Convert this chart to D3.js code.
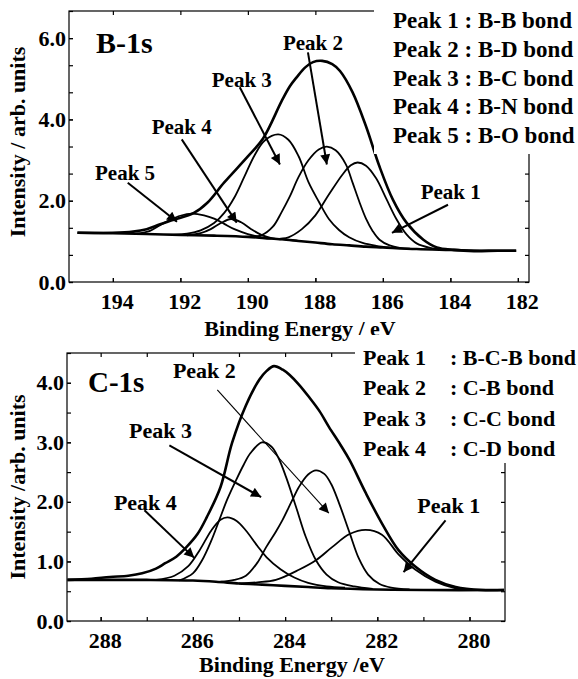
<!DOCTYPE html>
<html>
<head>
<meta charset="utf-8">
<script src="https://cdn.jsdelivr.net/npm/d3@7"></script>
<style>
  body { margin: 0; background: #fff; }
</style>
</head>
<body>
<svg id="chart" width="578" height="679"></svg>
<script>
// ---------- B-1s panel data (binding energy eV, intensity) ----------
const b1sXTicks = [194, 192, 190, 188, 186, 184, 182];
const b1sYMinor = [0, 0.667, 1.333, 2, 2.667, 3.333, 4, 4.667, 5.333, 6, 6.667];
const b1sYTicks = [0, 2, 4, 6];

const b1sBackground = [[195.05,1.21],[194,1.20],[193,1.18],[192,1.16],[191,1.14],[190,1.11],[189.5,1.08],[189,1.05],[188.5,1.01],[188,0.97],[187.5,0.93],[187,0.90],[186.5,0.87],[186,0.85],[185,0.81],[184,0.79],[183,0.77],[182.05,0.77]];
const b1sEnvelope = [[195.05,1.21],[194,1.21],[193.4,1.24],[193,1.30],[192.6,1.42],[192.2,1.53],[191.6,1.70],[191.2,1.95],[190.7,2.45],[190,3.09],[189.55,3.53],[189,4.45],[188.76,4.81],[188.55,5.04],[188.3,5.28],[188.07,5.41],[187.8,5.44],[187.5,5.36],[187.27,5.19],[186.9,4.67],[186.5,3.83],[186.1,2.84],[185.7,2.02],[185.3,1.46],[184.8,1.04],[184.4,0.85],[183.9,0.79],[183.3,0.76],[182.6,0.77],[182.05,0.77]];
const b1sPeak1 = [[189.2,1.06],[188.8,1.10],[188.4,1.30],[188,1.64],[187.6,2.15],[187.2,2.64],[186.95,2.87],[186.75,2.94],[186.5,2.86],[186.2,2.55],[185.9,2.05],[185.6,1.55],[185.3,1.17],[185,0.95],[184.6,0.84],[184.2,0.80]];
const b1sPeak2 = [[190,1.11],[189.6,1.15],[189.26,1.36],[189,1.72],[188.76,2.10],[188.5,2.58],[188.2,3.00],[187.9,3.26],[187.66,3.33],[187.4,3.24],[187.1,2.90],[186.9,2.45],[186.7,1.98],[186.5,1.56],[186.3,1.25],[186.1,1.04],[185.8,0.90],[185.5,0.84],[185.2,0.82]];
const b1sPeak3 = [[192.2,1.16],[191.8,1.19],[191.4,1.27],[191,1.45],[190.7,1.70],[190.4,2.08],[190.1,2.60],[189.8,3.12],[189.5,3.48],[189.1,3.63],[188.8,3.50],[188.5,3.10],[188.2,2.45],[187.9,1.98],[187.6,1.55],[187.3,1.28],[187,1.10],[186.6,0.96],[186.2,0.89],[185.8,0.85]];
const b1sPeak4 = [[191.8,1.15],[191.4,1.20],[191.1,1.30],[190.8,1.45],[190.5,1.55],[190.2,1.47],[189.9,1.30],[189.6,1.16],[189.3,1.08],[189,1.05]];
const b1sPeak5 = [[193.3,1.19],[192.9,1.26],[192.6,1.40],[192.3,1.53],[192,1.63],[191.65,1.68],[191.3,1.64],[191,1.56],[190.7,1.43],[190.4,1.30],[190,1.18],[189.6,1.10],[189.3,1.07]];

const b1sLegend = ["Peak 1 : B-B bond", "Peak 2 : B-D bond", "Peak 3 : B-C bond", "Peak 4 : B-N bond", "Peak 5 : B-O bond"];
// label text position, arrow start, arrow tip (eV, intensity)
const b1sNotes = [
  { text: "Peak 5", at: [193.64, 2.69], from: [193.56, 2.44], to: [192.10, 1.48] },
  { text: "Peak 4", at: [191.96, 3.83], from: [191.96, 3.51], to: [190.33, 1.46] },
  { text: "Peak 3", at: [190.18, 4.99], from: [190.24, 4.79], to: [189.05, 2.89] },
  { text: "Peak 2", at: [188.07, 5.90], from: [188.22, 5.65], to: [187.66, 2.89] },
  { text: "Peak 1", at: [183.99, 2.22], from: [184.07, 1.90], to: [185.73, 1.21] }
];

// ---------- C-1s panel data ----------
const c1sXTicks = [288, 286, 284, 282, 280];
const c1sXMinor = [288, 287, 286, 285, 284, 283, 282, 281, 280];
const c1sYMinor = [0, 0.5, 1, 1.5, 2, 2.5, 3, 3.5, 4, 4.5];
const c1sYTicks = [0, 1, 2, 3, 4];

const c1sBackground = [[288.72,0.69],[287,0.69],[286,0.68],[285.5,0.66],[285,0.63],[284.5,0.61],[284,0.59],[283.5,0.57],[283,0.55],[282,0.53],[281,0.52],[279.25,0.52]];
const c1sEnvelope = [[288.72,0.69],[288.2,0.71],[287.8,0.74],[287.4,0.76],[287.1,0.80],[286.8,0.88],[286.6,0.97],[286.36,1.08],[286.14,1.24],[285.9,1.46],[285.7,1.74],[285.4,2.25],[285.15,2.99],[284.85,3.62],[284.56,4.05],[284.4,4.20],[284.24,4.28],[284.05,4.22],[283.9,4.13],[283.7,3.97],[283.48,3.76],[283.25,3.52],[283.05,3.26],[282.8,2.96],[282.6,2.70],[282.25,2.15],[281.9,1.64],[281.54,1.19],[281.17,0.91],[280.74,0.69],[280.3,0.57],[279.74,0.52],[279.25,0.52]];
const c1sPeak1 = [[285,0.63],[284.6,0.65],[284.2,0.69],[283.7,0.86],[283.33,1.02],[282.98,1.24],[282.6,1.46],[282.25,1.53],[281.9,1.45],[281.54,1.12],[281.17,0.86],[280.74,0.66],[280.3,0.55],[279.8,0.52]];
const c1sPeak2 = [[285.4,0.66],[285.1,0.69],[284.85,0.76],[284.6,0.98],[284.41,1.24],[284.2,1.50],[284.06,1.69],[283.85,2.02],[283.7,2.25],[283.5,2.46],[283.33,2.53],[283.15,2.47],[283,2.30],[282.83,1.98],[282.6,1.48],[282.4,1.05],[282.2,0.78],[281.95,0.62],[281.7,0.56],[281.3,0.53]];
const c1sPeak3 = [[286.3,0.68],[286,0.80],[285.8,1.02],[285.6,1.35],[285.43,1.69],[285.25,2.05],[285.06,2.37],[284.9,2.62],[284.75,2.82],[284.5,3.00],[284.3,2.93],[284.15,2.75],[283.98,2.42],[283.76,1.91],[283.55,1.41],[283.33,1.02],[283.1,0.78],[282.85,0.65],[282.5,0.58],[282.1,0.54]];
const c1sPeak4 = [[286.8,0.69],[286.4,0.76],[286.1,0.92],[285.86,1.18],[285.6,1.52],[285.4,1.70],[285.25,1.74],[285.05,1.68],[284.85,1.52],[284.6,1.26],[284.4,1.07],[284.1,0.87],[283.8,0.73],[283.5,0.64],[283.1,0.58],[282.7,0.56]];

const c1sLegendPeaks = ["Peak 1", "Peak 2", "Peak 3", "Peak 4"];
const c1sLegendBonds = [": B-C-B bond", ": C-B bond", ": C-C bond", ": C-D bond"];
const c1sNotes = [
  { text: "Peak 2", at: [285.75, 4.21], from: [285.47, 3.88], to: [283.05, 1.81], thin: true },
  { text: "Peak 3", at: [286.70, 3.20], from: [286.51, 2.95], to: [284.52, 2.08] },
  { text: "Peak 4", at: [287.03, 2.00], from: [287.05, 1.86], to: [285.97, 1.06] },
  { text: "Peak 1", at: [280.45, 1.95], from: [280.52, 1.69], to: [281.43, 0.82] }
];

const serif = "'Liberation Serif', 'Times New Roman', Times, 'DejaVu Serif', serif";

const svg = d3.select("#chart")
  .attr("font-family", serif)
  .attr("font-weight", "bold");

svg.append("defs").append("marker")
  .attr("id", "head")
  .attr("viewBox", "0 0 10 10")
  .attr("refX", 10).attr("refY", 5)
  .attr("markerWidth", 13).attr("markerHeight", 10)
  .attr("markerUnits", "userSpaceOnUse")
  .attr("orient", "auto")
  .append("path").attr("d", "M0,0L10,5L0,10Z").attr("fill", "#000");

// every text gets the serif face set directly
function label(sel, size) {
  return sel.style("font-family", serif).style("font-weight", "bold")
    .style("font-size", size + "px").attr("fill", "#000");
}

function drawPanel(p) {
  const x = d3.scaleLinear().domain(p.xDomain).range([p.left, p.right]);
  const y = d3.scaleLinear().domain(p.yDomain).range([p.bottom, p.top]);
  const g = svg.append("g");

  // frame
  g.append("rect")
    .attr("x", p.left).attr("y", p.top)
    .attr("width", p.right - p.left).attr("height", p.bottom - p.top)
    .attr("fill", "none").attr("stroke", "#000").attr("stroke-width", 1.2);

  // ticks, all pointing inward
  function tidy(sel) {
    sel.attr("font-size", null).attr("font-family", null);
    sel.select(".domain").remove();
    sel.selectAll("line").attr("stroke-width", 1.2);
    label(sel.selectAll("text"), 22);
  }
  g.append("g").attr("transform", `translate(0,${p.bottom})`)
    .call(d3.axisBottom(x).tickValues(p.xMinor).tickSize(-4).tickFormat(""))
    .call(tidy);
  g.append("g").attr("transform", `translate(0,${p.bottom})`)
    .call(d3.axisBottom(x).tickValues(p.xTicks).tickSize(-4).tickPadding(11).tickFormat(d3.format("d")))
    .call(tidy)
    .selectAll("text").attr("dx", 4);
  g.append("g").attr("transform", `translate(0,${p.top})`)
    .call(d3.axisTop(x).tickValues(p.xMinor).tickSize(-4).tickFormat(""))
    .call(tidy);
  g.append("g").attr("transform", `translate(${p.left},0)`)
    .call(d3.axisLeft(y).tickValues(p.yMinor).tickSize(-4).tickFormat(""))
    .call(tidy);
  g.append("g").attr("transform", `translate(${p.left},0)`)
    .call(d3.axisLeft(y).tickValues(p.yTicks).tickSize(-4).tickPadding(3).tickFormat(d3.format(".1f")))
    .call(tidy);
  g.append("g").attr("transform", `translate(${p.right},0)`)
    .call(d3.axisRight(y).tickValues(p.yMinor).tickSize(-4).tickFormat(""))
    .call(tidy);

  // curves
  const line = d3.line()
    .x(d => x(d[0])).y(d => y(d[1]))
    .curve(d3.curveCatmullRom.alpha(0.5));
  p.peaks.forEach(pk => {
    g.append("path").datum(pk).attr("d", line)
      .attr("fill", "none").attr("stroke", "#000").attr("stroke-width", 1.8);
  });
  g.append("path").datum(p.background).attr("d", line)
    .attr("fill", "none").attr("stroke", "#000").attr("stroke-width", 2.6);
  g.append("path").datum(p.envelope).attr("d", line)
    .attr("fill", "none").attr("stroke", "#000").attr("stroke-width", 2.6);

  // white box where the legend sits over the frame corner
  g.append("rect")
    .attr("x", p.legendBox[0]).attr("y", p.legendBox[1])
    .attr("width", 578 - p.legendBox[0]).attr("height", p.legendBox[2] - p.legendBox[1])
    .attr("fill", "#fff");

  // panel title
  g.append("text").attr("x", p.titlePos[0]).attr("y", p.titlePos[1])
    .call(label, p.titleSize).text(p.title);

  // axis titles
  g.append("text")
    .attr("x", p.xLabelPos[0]).attr("y", p.xLabelPos[1])
    .attr("text-anchor", "middle").call(label, 22)
    .text(p.xLabel);
  g.append("text")
    .attr("transform", `translate(${p.yLabelPos[0]},${p.yLabelPos[1]}) rotate(-90)`)
    .attr("text-anchor", "middle").call(label, 22)
    .text(p.yLabel);

  // peak labels with arrows
  p.notes.forEach(n => {
    g.append("text")
      .attr("x", x(n.at[0])).attr("y", y(n.at[1]))
      .attr("dy", "0.35em").attr("text-anchor", "middle")
      .call(label, p.noteSize).text(n.text);
    g.append("line")
      .attr("x1", x(n.from[0])).attr("y1", y(n.from[1]))
      .attr("x2", x(n.to[0])).attr("y2", y(n.to[1]))
      .attr("stroke", "#000").attr("stroke-width", n.thin ? 1.1 : 2)
      .attr("marker-end", "url(#head)");
  });
  return g;
}

const topPanel = drawPanel({
  left: 69, right: 529, top: 11, bottom: 282,
  xDomain: [195.30, 181.67], yDomain: [0, 6.667],
  xTicks: b1sXTicks, xMinor: b1sXTicks, yTicks: b1sYTicks, yMinor: b1sYMinor,
  peaks: [b1sPeak1, b1sPeak2, b1sPeak3, b1sPeak4, b1sPeak5],
  background: b1sBackground, envelope: b1sEnvelope,
  legendBox: [374, 0, 154],
  title: "B-1s", titlePos: [96, 53], titleSize: 30,
  xLabel: "Binding Energy / eV", xLabelPos: [300, 336],
  yLabel: "Intensity / arb. units", yLabelPos: [25, 142],
  notes: b1sNotes, noteSize: 21
});

const bottomPanel = drawPanel({
  left: 67, right: 505, top: 353, bottom: 621,
  xDomain: [288.73, 279.23], yDomain: [0, 4.5],
  xTicks: c1sXTicks, xMinor: c1sXMinor, yTicks: c1sYTicks, yMinor: c1sYMinor,
  peaks: [c1sPeak1, c1sPeak2, c1sPeak3, c1sPeak4],
  background: c1sBackground, envelope: c1sEnvelope,
  legendBox: [355, 335, 463],
  title: "C-1s", titlePos: [88, 392], titleSize: 29,
  xLabel: "Binding Energy /eV", xLabelPos: [292, 672],
  yLabel: "Intensity /arb. units", yLabelPos: [25, 487],
  notes: c1sNotes, noteSize: 22
});

// legends
topPanel.selectAll(".leg").data(b1sLegend).enter().append("text")
  .attr("x", 393).attr("y", (d, i) => 28 + i * 28.75)
  .call(label, 23).text(d => d);

bottomPanel.selectAll(".legp").data(c1sLegendPeaks).enter().append("text")
  .attr("x", 363).attr("y", (d, i) => 365 + i * 30.3)
  .call(label, 22).text(d => d);
bottomPanel.selectAll(".legb").data(c1sLegendBonds).enter().append("text")
  .attr("x", 450).attr("y", (d, i) => 365 + i * 30.3)
  .call(label, 22).text(d => d);
</script>
</body>
</html>
